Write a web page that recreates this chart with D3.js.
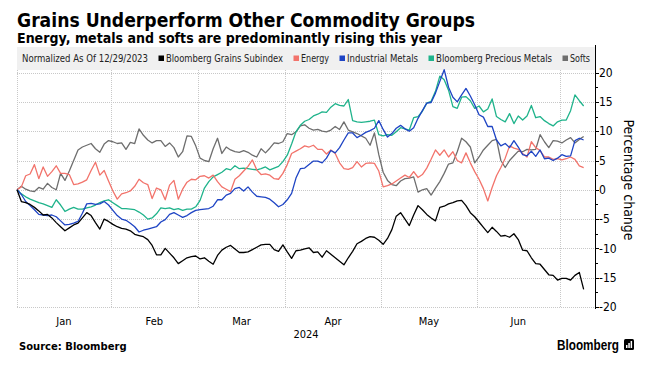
<!DOCTYPE html>
<html><head><meta charset="utf-8">
<script src="https://cdn.jsdelivr.net/npm/d3@7"></script>
<style>body{margin:0;background:#fff}svg{display:block}</style>
</head><body>
<svg id="chart" width="655" height="367"></svg>
<script>
// ---------------- DATA ----------------
const startDate = "2023-12-29";
const endDate = "2024-07-09";
const holidays = ["2024-01-01","2024-01-15","2024-02-19","2024-03-29","2024-05-27","2024-06-19","2024-07-04"];
const seriesNames = ["Bloomberg Grains Subindex","Energy","Industrial Metals","Bloomberg Precious Metals","Softs"];
const yTicks = [20,15,10,5,0,-5,-10,-15,-20];
const monthNames = ["Jan","Feb","Mar","Apr","May","Jun","Jul"];
const yearLabel = "2024";

const grains = [0,-2.0,-2.2,-2.5,-3.0,-3.6,-4.3,-4.2,-4.8,-5.6,
 -6.3,-7.0,-6.5,-6.0,-5.7,-4.8,-3.9,-4.4,-5.6,-6.7,
 -5.0,-5.4,-5.9,-6.3,-6.6,-6.7,-7.0,-7.6,-7.8,-8.0,
 -8.5,-9.5,-11.1,-11.1,-10.0,-10.8,-11.6,-12.6,-12.1,-11.6,
 -11.4,-11.3,-11.8,-11.6,-12.2,-12.7,-11.2,-10.3,-9.8,-9.5,
 -10.1,-10.7,-10.7,-10.6,-10.2,-9.8,-9.4,-9.3,-9.3,-10.2,
 -10.5,-9.4,-10.6,-11.7,-10.4,-10.3,-10.1,-9.9,-10.7,-10.6,
 -11.5,-10.4,-11.0,-11.6,-12.2,-12.8,-11.6,-10.5,-9.2,-8.8,
 -8.3,-8.0,-8.1,-8.6,-9.3,-8.3,-6.8,-4.5,-3.9,-5.0,
 -6.1,-4.3,-2.7,-3.4,-4.2,-4.8,-5.3,-3.0,-2.8,-2.4,
 -2.2,-1.9,-1.8,-2.7,-3.9,-4.6,-5.5,-6.4,-7.3,-6.4,
 -7.1,-7.9,-7.8,-8.1,-7.5,-8.5,-10.3,-10.4,-11.6,-12.6,
 -12.7,-13.6,-14.5,-14.6,-15.4,-15.1,-15.1,-15.4,-14.6,-14.1,
 -17.0];
const energy = [0,0.5,2.4,2.7,4.3,1.9,3.9,2.3,3.1,4.1,
 2.8,2.8,2.6,0.9,1.0,1.3,1.7,3.3,4.7,2.5,
 3.3,1.5,-0.2,-1.6,-0.7,-0.5,-0.2,0.6,1.8,1.2,
 0.9,-1.5,0.3,0.0,-1.7,0.8,1.6,-1.6,0.1,1.3,
 1.8,1.7,2.3,2.4,2.0,2.5,1.4,0.5,0.1,-0.3,
 1.8,2.4,3.2,4.0,5.1,3.4,2.6,2.7,2.5,1.9,
 1.8,2.8,4.3,6.2,6.6,7.0,7.5,7.3,7.6,6.9,
 6.9,6.1,6.8,6.2,4.6,3.6,3.5,3.8,4.8,3.9,
 4.5,4.6,4.5,3.2,0.5,0.7,1.0,1.5,2.0,2.5,
 2.1,3.1,2.1,2.6,3.7,5.2,6.8,5.9,6.8,5.6,
 6.5,5.0,4.6,6.3,4.6,3.1,1.8,0.2,-1.9,0.4,
 2.4,3.8,5.4,7.5,7.1,6.9,6.2,5.6,8.2,7.2,
 6.7,5.6,5.6,5.2,5.3,5.1,5.3,5.6,5.2,4.1,
 3.8];
const industrialMetals = [0,-0.8,-2.0,-2.7,-3.4,-4.2,-4.3,-4.4,-4.3,-4.6,
 -5.3,-6.0,-5.9,-5.7,-5.4,-4.0,-2.4,-2.3,-2.5,-2.4,
 -2.0,-2.6,-3.5,-4.4,-5.0,-5.2,-5.7,-6.3,-7.2,-6.9,
 -6.7,-6.5,-6.3,-5.5,-5.1,-4.2,-3.9,-4.3,-4.7,-4.4,
 -3.9,-3.5,-3.4,-3.3,-3.2,-2.8,-1.7,-1.7,-0.9,-0.6,
 0.2,0.4,-0.2,0.5,-0.4,-1.1,-1.2,-1.3,-1.6,-2.2,
 -2.9,-2.5,-1.7,-0.6,2.0,3.6,3.7,4.3,4.9,4.9,
 4.6,5.4,6.7,6.3,7.2,8.5,9.7,9.7,8.9,9.3,
 9.8,10.1,10.5,11.8,10.3,9.0,9.6,10.5,11.0,10.4,
 10.0,10.6,12.2,13.5,14.8,14.9,16.5,18.5,20.5,17.5,
 15.8,15.0,16.2,17.3,16.0,14.5,12.8,12.4,10.8,10.8,
 8.5,7.5,7.9,7.2,8.4,7.3,6.0,5.8,6.6,5.7,
 6.8,5.3,5.4,5.0,5.4,6.0,5.7,5.8,8.4,8.8,
 8.5];
const preciousMetals = [0,-0.7,-1.2,-1.6,-1.9,-2.2,-2.4,-2.7,-3.0,-1.7,
 -2.6,-3.7,-3.3,-3.0,-3.3,-3.3,-3.1,-2.9,-2.6,-2.2,
 -1.9,-1.7,-2.2,-2.7,-3.2,-3.2,-3.3,-3.4,-3.8,-4.3,
 -5.0,-4.8,-4.1,-3.1,-3.2,-3.1,-3.4,-3.2,-3.5,-3.3,
 -3.3,-2.9,-1.8,0.3,1.4,2.2,2.6,3.0,3.6,3.4,
 4.1,3.6,3.7,3.6,3.5,3.4,3.6,3.9,3.4,3.7,
 4.0,4.8,5.9,7.8,9.9,11.0,11.7,12.0,12.6,12.9,
 13.3,13.2,14.1,14.7,14.4,14.3,15.4,11.8,11.6,11.5,
 11.6,11.7,11.9,9.4,9.2,9.4,9.3,9.9,10.6,10.4,
 10.2,12.3,12.5,13.4,14.8,15.1,16.8,19.4,18.8,17.0,
 14.2,13.9,15.8,15.9,15.2,13.9,14.3,13.3,13.8,15.5,
 12.5,12.0,11.6,13.0,11.3,12.6,11.9,12.6,14.4,12.3,
 12.5,11.8,11.3,10.9,11.6,11.9,11.9,13.5,16.2,15.2,
 14.3];
const softs = [0,0.6,0.1,-0.2,-0.3,0.4,0.1,1.1,0.4,0.0,
 2.8,1.6,3.2,5.0,6.8,7.3,7.6,7.9,7.0,6.4,
 7.8,8.4,8.2,7.9,8.0,6.9,8.1,7.9,10.4,9.3,
 8.5,8.0,8.4,8.4,7.4,8.0,7.2,5.6,6.5,9.2,
 9.1,7.5,5.4,5.0,4.8,7.0,8.8,6.2,7.3,6.8,
 6.5,6.4,6.7,6.4,5.9,5.6,7.0,6.3,7.1,8.0,
 7.9,8.2,9.6,9.4,9.9,10.9,11.1,10.5,10.2,10.3,
 10.0,9.9,10.2,10.8,10.3,11.6,10.2,9.9,9.6,9.2,
 8.8,7.6,9.7,6.0,3.0,1.6,0.9,0.7,1.5,1.9,
 2.0,2.2,-0.4,0.0,0.2,-0.9,0.3,1.4,2.8,4.4,
 4.6,6.5,8.8,8.2,7.3,4.6,5.6,6.8,7.6,8.4,
 8.6,5.0,3.8,5.0,5.8,6.6,6.5,6.9,6.8,6.9,
 9.4,8.2,7.2,8.4,8.3,8.0,8.5,8.9,8.0,8.6,
 9.1];

// ---------------- LAYOUT ----------------
const W = 655, H = 367;
const plotL = 17, plotR = 595, plotT = 70, plotB = 307;
const colors = {
  "Bloomberg Grains Subindex": "#000000",
  "Energy": "#f2736b",
  "Industrial Metals": "#1e44c4",
  "Bloomberg Precious Metals": "#1fb38b",
  "Softs": "#6e6e6e"
};
const smallFont = "'Liberation Sans Narrow','DejaVu Sans Condensed','Roboto Condensed','Liberation Sans',Arial,sans-serif";
const boldFont = "'DejaVu Sans','Liberation Sans',Arial,sans-serif";

// trading days
const hol = new Set(holidays);
const fmt = d3.timeFormat("%Y-%m-%d");
const parse = d3.timeParse("%Y-%m-%d");
const dates = d3.timeDay.range(parse(startDate), d3.timeDay.offset(parse(endDate),1))
  .filter(d => d.getDay() !== 0 && d.getDay() !== 6 && !hol.has(fmt(d)));

const seriesData = [
  {name: seriesNames[4], values: softs},
  {name: seriesNames[3], values: preciousMetals},
  {name: seriesNames[1], values: energy},
  {name: seriesNames[2], values: industrialMetals},
  {name: seriesNames[0], values: grains}
];

const svg = d3.select("#chart");
svg.append("rect").attr("width", W).attr("height", H).attr("fill", "#fff");

const x = d3.scaleLinear().domain([0, dates.length - 1 + 2.6]).range([plotL, plotR]);
const y = d3.scaleLinear().domain([-20, 20]).range([plotB, 72.6]);

function fit(sel, w) {
  const n = sel.node().getComputedTextLength();
  if (Math.abs(n - w) > 1) sel.attr("textLength", w).attr("lengthAdjust", "spacingAndGlyphs");
  return sel;
}

// Title
fit(svg.append("text").attr("x", 17).attr("y", 27)
  .attr("font-family", boldFont).attr("font-weight", "bold").attr("font-size", 19)
  .attr("fill", "#000").text("Grains Underperform Other Commodity Groups"), 458);
fit(svg.append("text").attr("x", 17).attr("y", 42.5)
  .attr("font-family", boldFont).attr("font-weight", "bold").attr("font-size", 14)
  .attr("fill", "#000").text("Energy, metals and softs are predominantly rising this year"), 425);

// Legend band
svg.append("rect").attr("x", plotL).attr("y", 47).attr("width", plotR - plotL).attr("height", 23).attr("fill", "#f0f0f0");

// Month boundaries (2024 months only)
const monthStarts = [];
dates.forEach((d, i) => {
  if (i > 0 && d.getMonth() !== dates[i-1].getMonth() && d.getMonth() !== 0) monthStarts.push(i);
});
const boundaries = [0].concat(monthStarts.map(i => i - 0.5));

// gridlines
const grid = svg.append("g").attr("stroke", "#c8c8c8").attr("stroke-width", 1).attr("stroke-dasharray", "1,1");
grid.selectAll("line.h").data(yTicks).enter().append("line")
  .attr("x1", plotL).attr("x2", plotR).attr("y1", d => Math.round(y(d)) + 0.5).attr("y2", d => Math.round(y(d)) + 0.5);
grid.selectAll("line.v").data(boundaries).enter().append("line")
  .attr("x1", d => Math.round(x(d)) + 0.5).attr("x2", d => Math.round(x(d)) + 0.5)
  .attr("y1", plotT).attr("y2", plotB);

// Legend
const lg = svg.append("g").attr("font-family", smallFont).attr("font-size", 10).attr("fill", "#222");
const legendItems = [
  {label: "Normalized As Of 12/29/2023", w: 126, color: null},
  {label: seriesNames[0], w: 117, color: colors[seriesNames[0]]},
  {label: seriesNames[1], w: 28, color: colors[seriesNames[1]]},
  {label: seriesNames[2], w: 71, color: colors[seriesNames[2]]},
  {label: seriesNames[3], w: 116, color: colors[seriesNames[3]]},
  {label: seriesNames[4], w: 20, color: colors[seriesNames[4]]}
];
let lx = 22;
legendItems.forEach((it, k) => {
  if (it.color) {
    lg.append("rect").attr("x", lx).attr("y", 55.5).attr("width", 5.5).attr("height", 5.5).attr("fill", it.color);
    lx += 7.5;
  }
  fit(lg.append("text").attr("x", lx).attr("y", 62).text(it.label), it.w);
  lx += it.w + 10.5;
});

// Lines
const line = d3.line().x((d, i) => x(i)).y(d => y(d));
svg.append("g").selectAll("path").data(seriesData).enter().append("path")
  .attr("d", d => line(d.values)).attr("fill", "none")
  .attr("stroke", d => colors[d.name]).attr("stroke-width", 1.3)
  .attr("stroke-linejoin", "round");

// Right axis
const ax = svg.append("g").attr("transform", `translate(${plotR},0)`);
ax.append("line").attr("x1", 0.5).attr("x2", 0.5).attr("y1", 45).attr("y2", 309).attr("stroke", "#000");
const minor = d3.range(-17.5, 20, 5);
ax.selectAll("line.mi").data(minor).enter().append("line")
  .attr("x1", 0).attr("x2", 3).attr("y1", d => Math.round(y(d)) + 0.5).attr("y2", d => Math.round(y(d)) + 0.5).attr("stroke", "#000");
ax.selectAll("line.ma").data(yTicks).enter().append("line")
  .attr("x1", 0).attr("x2", 4).attr("y1", d => Math.round(y(d)) + 0.5).attr("y2", d => Math.round(y(d)) + 0.5).attr("stroke", "#000");
ax.selectAll("text").data(yTicks).enter().append("text")
  .attr("x", 4).attr("y", d => y(d)).attr("dy", "0.35em")
  .attr("font-family", smallFont).attr("font-size", 12).attr("fill", "#000")
  .text(d => d < 0 ? "-" + Math.abs(d) : d);

svg.append("text").attr("transform", "translate(629,180) rotate(90)")
  .attr("text-anchor", "middle").attr("dominant-baseline", "central")
  .attr("font-family", smallFont).attr("font-size", 14).attr("fill", "#000")
  .text("Percentage change");

// Month labels
const mg = svg.append("g").attr("font-family", smallFont).attr("font-size", 11).attr("fill", "#000").attr("text-anchor", "middle");
for (let k = 0; k < boundaries.length - 1; k++) {
  const a = boundaries[k], b = boundaries[k+1];
  const m = dates[Math.ceil(a + 0.5)].getMonth();
  mg.append("text").attr("x", (x(a) + x(b)) / 2).attr("y", 325).text(monthNames[m]);
}
mg.append("text").attr("x", (plotL + plotR) / 2).attr("y", 338).text(yearLabel);

// Footer
svg.append("text").attr("x", 19).attr("y", 350)
  .attr("font-family", boldFont).attr("font-weight", "bold").attr("font-size", 10).attr("fill", "#000")
  .text("Source: Bloomberg");
fit(svg.append("text").attr("x", 557).attr("y", 350)
  .attr("font-family", "'Liberation Sans',Arial,sans-serif").attr("font-weight", "bold").attr("font-size", 14).attr("fill", "#000")
  .text("Bloomberg"), 62);
const ic = svg.append("g").attr("transform", "translate(624,339)");
ic.append("rect").attr("width", 10).attr("height", 11).attr("rx", 1.5).attr("fill", "#000");
[[2,6,1.5,3],[4.3,4,1.5,5],[6.6,2,1.5,7]].forEach(b => ic.append("rect").attr("x", b[0]).attr("y", b[1]).attr("width", b[2]).attr("height", b[3]).attr("fill", "#fff"));
</script>
</body></html>
